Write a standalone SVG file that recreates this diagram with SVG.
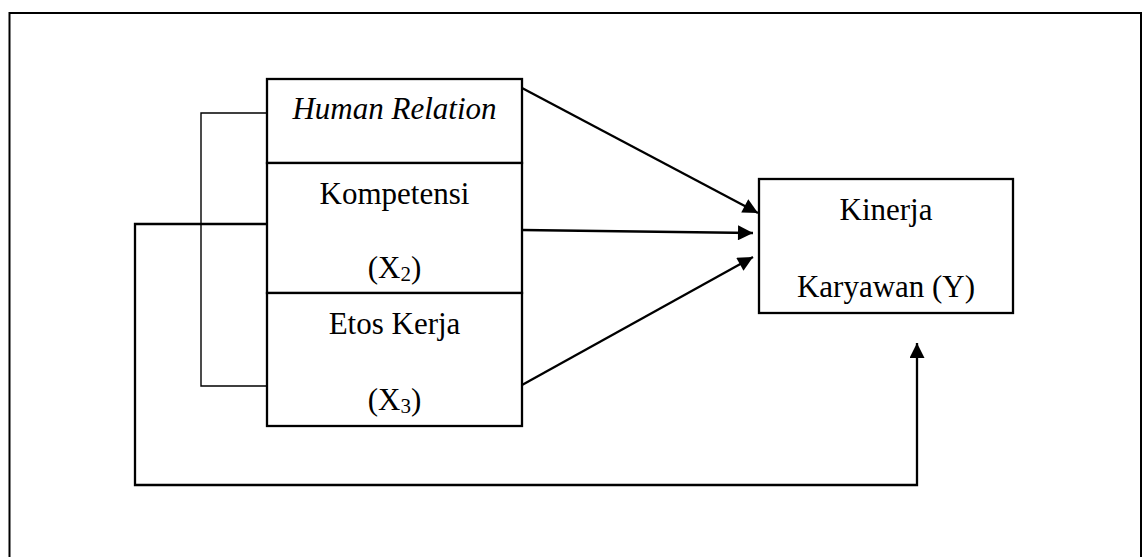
<svg xmlns="http://www.w3.org/2000/svg" width="1143" height="557" viewBox="0 0 1143 557">
  <style>
    .box { fill: #fff; stroke: #000; stroke-width: 2.3; }
    .txt { font-family: "Liberation Serif", "Times New Roman", serif; font-size: 31px; fill: #000; text-anchor: middle; }
    .thin { fill: none; stroke: #000; stroke-width: 1.4; }
    .arr { fill: none; stroke: #000; stroke-width: 2.3; }
  </style>
  <defs>
    <marker id="ah" viewBox="0 0 16 16" refX="16" refY="8" markerWidth="16" markerHeight="15" markerUnits="userSpaceOnUse" orient="auto">
      <path d="M0,0 L16,8 L0,16 z" fill="#000"/>
    </marker>
  </defs>
  <rect width="1143" height="557" fill="#fff"/>
  <path d="M9.5,557 V13 H1141 V557" fill="none" stroke="#000" stroke-width="2"/>

  <g id="connectors">
    <path class="thin" d="M267,113 H201 V386 H267"/>
    <path class="arr" d="M267,224 H135 V485 H917 V343" stroke-width="1.7" marker-end="url(#ah)"/>
    <line class="arr" x1="522" y1="88" x2="758" y2="213" marker-end="url(#ah)"/>
    <line class="arr" x1="522" y1="230" x2="753" y2="233" marker-end="url(#ah)"/>
    <line class="arr" x1="522" y1="385" x2="753" y2="257" marker-end="url(#ah)"/>
  </g>

  <g id="node-human-relation">
    <rect class="box" x="267" y="79" width="255" height="84"/>
    <text class="txt" x="394.5" y="119" font-style="italic" font-size="32">Human Relation</text>
  </g>
  <g id="node-kompetensi">
    <rect class="box" x="267" y="163" width="255" height="130"/>
    <text class="txt" x="394.5" y="204">Kompetensi</text>
    <text class="txt" x="394.5" y="278">(X<tspan font-size="21" dy="3">2</tspan><tspan dy="-3">)</tspan></text>
  </g>
  <g id="node-etos-kerja">
    <rect class="box" x="267" y="293" width="255" height="133"/>
    <text class="txt" x="394.5" y="334">Etos Kerja</text>
    <text class="txt" x="394.5" y="410">(X<tspan font-size="21" dy="3">3</tspan><tspan dy="-3">)</tspan></text>
  </g>
  <g id="node-kinerja">
    <rect class="box" x="759" y="179" width="254" height="134"/>
    <text class="txt" x="886" y="220">Kinerja</text>
    <text class="txt" x="886" y="297">Karyawan (Y)</text>
  </g>
</svg>
